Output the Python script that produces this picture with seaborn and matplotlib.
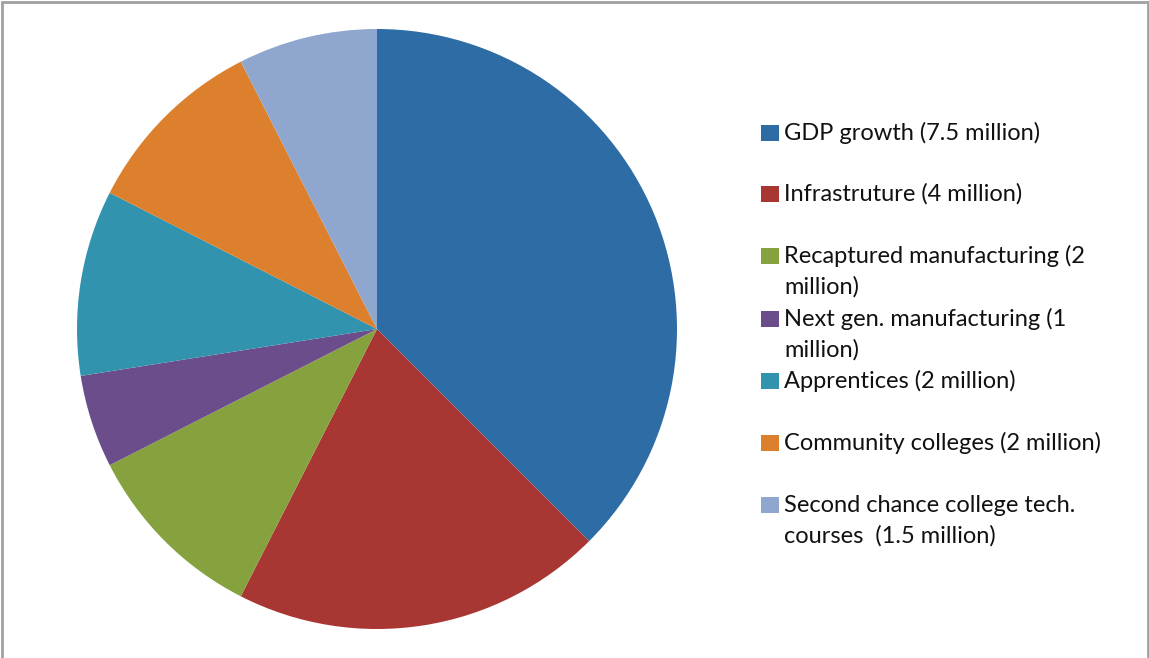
import matplotlib
matplotlib.use("Agg")
import matplotlib.pyplot as plt
from matplotlib.patches import Rectangle
import seaborn as sns

categories = [
    "GDP growth (7.5 million)",
    "Infrastruture (4 million)",
    "Recaptured manufacturing (2\nmillion)",
    "Next gen. manufacturing (1\nmillion)",
    "Apprentices (2 million)",
    "Community colleges (2 million)",
    "Second chance college tech.\ncourses  (1.5 million)",
]
values = [7.5, 4, 2, 1, 2, 2, 1.5]
colors = ["#2E6CA5", "#A83733", "#86A23F", "#6B4D8B", "#3193AE", "#DD802E", "#8FA7CF"]

sns.set_theme(style="white")
plt.rcParams["font.family"] = ["Lato", "DejaVu Sans"]

W, H = 1149, 658
fig = plt.figure(figsize=(W / 100, H / 100), dpi=100)
fig.patch.set_facecolor("white")

# pie axes: center (377, 329), radius 300 px
cx, cy, r = 377, 329, 300
ax = fig.add_axes([(cx - r) / W, (H - cy - r) / H, 2 * r / W, 2 * r / H])
palette = sns.color_palette(colors)
ax.pie(values, colors=palette, startangle=90, counterclock=False, radius=1,
       wedgeprops=dict(linewidth=0))
ax.set_xlim(-1, 1)
ax.set_ylim(-1, 1)
ax.set_aspect("equal")
ax.axis("off")

# legend drawn manually to reproduce the layout
first_line_y = [133, 194, 256, 319, 381, 443, 505]
line_step = 31
for lab, col, y in zip(categories, palette, first_line_y):
    fig.patches.append(Rectangle(((761) / W, 1 - (y + 8) / H), 18 / W, 16 / H,
                                 transform=fig.transFigure, facecolor=col,
                                 edgecolor="none"))
    for i, line in enumerate(lab.split("\n")):
        fig.text(784 / W, 1 - (y + i * line_step) / H, line, fontsize=17,
                 color="#111111", va="center", ha="left")

# outer frame (left, top, right)
frame_kw = dict(transform=fig.transFigure, color="#A0A0A0", linewidth=2)
fig.lines.append(plt.Line2D([1.5 / W, 1.5 / W], [0, 1 - 1.5 / H], **frame_kw))
fig.lines.append(plt.Line2D([1.5 / W, 1 - 1.5 / W], [1 - 1.5 / H, 1 - 1.5 / H], **frame_kw))
fig.lines.append(plt.Line2D([1 - 1.5 / W, 1 - 1.5 / W], [0, 1 - 1.5 / H], **frame_kw))

fig.savefig("out.png", dpi=100, facecolor="white")
